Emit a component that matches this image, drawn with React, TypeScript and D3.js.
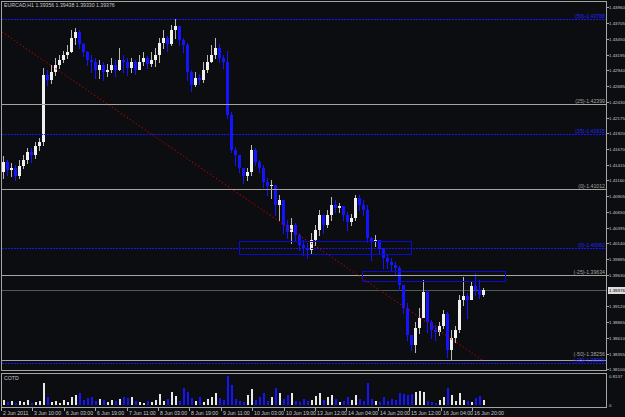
import React from 'react';
import * as d3 from 'd3';

const titleText = 'EURCAD,H1  1.39356 1.39438 1.39330 1.39376';
const firstOpen = 1.4129;
const closes = [
  1.4145, 1.4132, 1.4136, 1.4123, 1.4139, 1.4149, 1.4162, 1.4157, 1.4171, 1.4178,
  1.4286, 1.4278, 1.4291, 1.4302, 1.4310, 1.4318, 1.4323, 1.4346, 1.4356, 1.4336,
  1.4323, 1.4310, 1.4307, 1.4294, 1.4302, 1.4291, 1.4294, 1.4302, 1.4294, 1.4310,
  1.4307, 1.4297, 1.4307, 1.4294, 1.4307, 1.4314, 1.4304, 1.4310, 1.4318, 1.4339,
  1.4346, 1.4336, 1.4359, 1.4365, 1.4343, 1.4335, 1.4291, 1.4270, 1.4281, 1.4278,
  1.4294, 1.4307, 1.4318, 1.4330, 1.4314, 1.4307, 1.4221, 1.4165, 1.4157, 1.4136,
  1.4123, 1.4129, 1.4165, 1.4145, 1.4136, 1.4113, 1.4107, 1.4108, 1.4076, 1.4084,
  1.4044, 1.4032, 1.4044, 1.4027, 1.4011, 1.4006, 1.4003, 1.4019, 1.4035, 1.4060,
  1.4044, 1.4060, 1.4076, 1.4071, 1.4074, 1.4060, 1.4048, 1.4055, 1.4087, 1.4076,
  1.4068, 1.4023, 1.4016, 1.4019, 1.4006, 1.3990, 1.3984, 1.3979, 1.3974, 1.3947,
  1.3909, 1.3866, 1.3849, 1.3877, 1.3893, 1.3935, 1.3887, 1.3874, 1.3871, 1.3880,
  1.3900, 1.3841, 1.3861, 1.3874, 1.3922, 1.3929, 1.3922, 1.3945, 1.3938, 1.3930,
  1.39376,
];
const highs = [
  1.4155, 1.4149, 1.4144, 1.4141, 1.4149, 1.4157, 1.4168, 1.4168, 1.4178, 1.4184,
  1.4297, 1.4294, 1.4302, 1.4314, 1.4318, 1.4326, 1.4335, 1.4359, 1.4362, 1.4359,
  1.4339, 1.4326, 1.4318, 1.4314, 1.4310, 1.4307, 1.4304, 1.4314, 1.4310, 1.4330,
  1.4318, 1.4314, 1.4314, 1.4310, 1.4318, 1.4323, 1.4317, 1.4323, 1.4330, 1.4346,
  1.4359, 1.4349, 1.4367, 1.4377, 1.4365, 1.4346, 1.4339, 1.4294, 1.4291, 1.4288,
  1.4307, 1.4318, 1.4335, 1.4346, 1.4336, 1.4318, 1.4326, 1.4226, 1.4170, 1.4152,
  1.4136, 1.4136, 1.4173, 1.4168, 1.4149, 1.4141, 1.4120, 1.4116, 1.4097, 1.4092,
  1.4055, 1.4052, 1.4055, 1.4047, 1.4031, 1.4019, 1.4014, 1.4031, 1.4044, 1.4068,
  1.4055, 1.4068, 1.4089, 1.4084, 1.4079, 1.4073, 1.4065, 1.4061, 1.4092, 1.4092,
  1.4084, 1.4076, 1.4024, 1.4027, 1.4019, 1.4003, 1.3995, 1.3990, 1.3984, 1.3977,
  1.3947, 1.3917, 1.3866, 1.3887, 1.3909, 1.3955, 1.3938, 1.3890, 1.3882, 1.3887,
  1.3906, 1.3903, 1.3874, 1.3880, 1.3930, 1.3959, 1.3934, 1.3951, 1.3966, 1.3955,
  1.3942,
];
const lows = [
  1.4120, 1.4124, 1.4123, 1.4116, 1.4120, 1.4136, 1.4144, 1.4145, 1.4152, 1.4165,
  1.4173, 1.4270, 1.4273, 1.4286, 1.4297, 1.4307, 1.4314, 1.4323, 1.4336, 1.4330,
  1.4317, 1.4302, 1.4291, 1.4281, 1.4281, 1.4278, 1.4284, 1.4291, 1.4284, 1.4294,
  1.4291, 1.4286, 1.4291, 1.4288, 1.4297, 1.4302, 1.4297, 1.4301, 1.4301, 1.4307,
  1.4330, 1.4326, 1.4335, 1.4346, 1.4335, 1.4323, 1.4278, 1.4260, 1.4268, 1.4272,
  1.4275, 1.4291, 1.4307, 1.4314, 1.4307, 1.4297, 1.4217, 1.4162, 1.4141, 1.4129,
  1.4111, 1.4116, 1.4124, 1.4141, 1.4129, 1.4105, 1.4092, 1.4087, 1.4060, 1.4052,
  1.4031, 1.4023, 1.4014, 1.4019, 1.4003, 1.3995, 1.3990, 1.3998, 1.4011, 1.4027,
  1.4031, 1.4040, 1.4052, 1.4065, 1.4065, 1.4052, 1.4035, 1.4044, 1.4052, 1.4068,
  1.4060, 1.4016, 1.3987, 1.4010, 1.3998, 1.3974, 1.3974, 1.3971, 1.3963, 1.3938,
  1.3901, 1.3858, 1.3841, 1.3838, 1.3869, 1.3898, 1.3871, 1.3861, 1.3858, 1.3866,
  1.3877, 1.3830, 1.3825, 1.3854, 1.3871, 1.3914, 1.3893, 1.3927, 1.3930, 1.3925,
  1.3928,
];
const cotd = [
  0.14, 0.08, 0.11, 0.05, 0.11, 0.08, 0.14, 0.05, 0.08, 0.11,
  0.62, 0.22, 0.08, 0.11, 0.05, 0.14, 0.08, 0.22, 0.27, 0.32,
  0.14, 0.19, 0.22, 0.11, 0.16, 0.14, 0.08, 0.14, 0.11, 0.16,
  0.22, 0.19, 0.22, 0.11, 0.08, 0.05, 0.11, 0.08, 0.14, 0.30,
  0.11, 0.16, 0.35, 0.24, 0.11, 0.46, 0.35, 0.19, 0.11, 0.22,
  0.08, 0.16, 0.22, 0.32, 0.19, 0.14, 0.8137, 0.54, 0.16, 0.11,
  0.08, 0.27, 0.44, 0.14, 0.22, 0.33, 0.11, 0.22, 0.46, 0.32,
  0.16, 0.27, 0.32, 0.11, 0.08, 0.16, 0.11, 0.14, 0.24, 0.32,
  0.14, 0.22, 0.27, 0.16, 0.08, 0.11, 0.22, 0.14, 0.27, 0.16,
  0.11, 0.62, 0.16, 0.11, 0.08, 0.22, 0.11, 0.16, 0.14, 0.32,
  0.30, 0.27, 0.30, 0.35, 0.38, 0.35, 0.11, 0.08, 0.05, 0.14,
  0.22, 0.48, 0.27, 0.11, 0.32, 0.14, 0.11, 0.08, 0.19, 0.24,
  0.14,
];
const priceTicks = [
  '1.43960', '1.43705', '1.43450', '1.43195', '1.42940', '1.42685', '1.42430', '1.42175',
  '1.41920', '1.41670', '1.41415', '1.41160', '1.40905', '1.40650', '1.40395', '1.40140',
  '1.39885', '1.39630', '1.39120', '1.38865', '1.38610', '1.38355', '1.38100',
];
const timeLabels = [
  '2 Jun 2011', '3 Jun 10:00', '6 Jun 03:00', '6 Jun 19:00', '7 Jun 11:00', '8 Jun 03:00',
  '8 Jun 19:00', '9 Jun 11:00', '10 Jun 03:00', '10 Jun 19:00', '13 Jun 12:00', '14 Jun 04:00',
  '14 Jun 20:00', '15 Jun 12:00', '16 Jun 04:00', '16 Jun 20:00',
];
const grayLevels = [1.42399, 1.41012, 1.39634, 1.38256];
const grayTags = ['(25)', '(0)', '(-25)', '(-50)'];
const blueLevels = [1.43768, 1.41915, 1.40062, 1.38209];
const blueTags = ['(50)', '(25)', '(0)', '(-25)'];
const boxFrom = [59, 89.75];
const boxTo = [102, 125.5];
const boxTop = [1.40177, 1.39687];
const boxBottom = [1.39966, 1.39525];
const trendIdx = [-0.25, 119.75];
const trendPrice = [1.4356, 1.3825];
const lastPrice = 1.39376;
const cotdMax = 0.8137;

export default function App() {
  const W = 625, H = 417;
  const L = 2, R = 606, mainTop = 1, mainBottom = 371, subTop = 374, subBottom = 408;
  const y = d3.scaleLinear().domain([1.381, 1.4396]).range([369.3, 7.3]);
  const x = d3.scaleLinear().domain([0, 120]).range([3, 483]);
  const xh = d3.scaleLinear().domain([0, 240]).range([1, 472]);
  const yv = d3.scaleLinear().domain([0, cotdMax]).range([405, 375.5]);
  const font = "'Liberation Sans', Arial, sans-serif";
  const fs = 5.2;
  const afs = 4.4;
  const gray = '#a4a4a0';
  const txt = '#c8c8c8';
  const blue = '#1414ff';

  const candles = closes.map((c, i) => ({
    i,
    o: i === 0 ? firstOpen : closes[i - 1],
    h: highs[i],
    l: lows[i],
    c,
    v: cotd[i],
  }));

  const trendLine = d3.line<number>()
    .x((_, k) => x(trendIdx[k]))
    .y((p) => y(p));

  return (
    <svg width={W} height={H} style={{ position: 'absolute', left: 0, top: 0, background: '#0c0d10' }}
      fontFamily={font}>
      <rect x={0} y={0} width={W} height={H} fill="#0c0d10" />
      <defs>
        <clipPath id="mainClip"><rect x={L} y={mainTop} width={R - L} height={mainBottom - mainTop} /></clipPath>
        <clipPath id="subClip"><rect x={L} y={subTop} width={R - L} height={subBottom - subTop} /></clipPath>
      </defs>

      <text x={4} y={7} fontSize={fs} fill={txt}>{titleText}</text>

      <g clipPath="url(#mainClip)" shapeRendering="crispEdges">
        <line x1={L} x2={R} y1={Math.round(y(lastPrice)) + 0.5} y2={Math.round(y(lastPrice)) + 0.5} stroke="#4f5c56" />
        {candles.map((d) => {
          const cx = Math.round(x(d.i));
          const up = d.c >= d.o;
          const col = up ? '#f0f0f0' : blue;
          const top = Math.round(y(Math.max(d.o, d.c)));
          const bot = Math.round(y(Math.min(d.o, d.c)));
          return (
            <g key={d.i}>
              <line x1={cx + 0.5} x2={cx + 0.5} y1={Math.round(y(d.h))} y2={Math.round(y(d.l)) + 1}
                stroke={up ? '#b8b8b8' : blue} />
              <rect x={cx - 1} y={top} width={3} height={Math.max(1, bot - top)} fill={col} />
            </g>
          );
        })}
        {grayLevels.map((p, k) => (
          <line key={'g' + k} x1={L} x2={R} y1={Math.round(y(p)) + 0.5} y2={Math.round(y(p)) + 0.5} stroke={gray} />
        ))}
        {blueLevels.map((p, k) => (
          <line key={'b' + k} x1={L} x2={R} y1={Math.round(y(p)) + 0.5} y2={Math.round(y(p)) + 0.5}
            stroke={blue} strokeDasharray="2 1" />
        ))}
        {boxFrom.map((f, k) => (
          <rect key={'r' + k} x={Math.round(x(f)) + 0.5} y={Math.round(y(boxTop[k])) + 0.5}
            width={Math.round(x(boxTo[k]) - x(f))} height={Math.round(y(boxBottom[k]) - y(boxTop[k]))}
            fill="none" stroke="#0a0ad0" />
        ))}
      </g>
      <g clipPath="url(#mainClip)">
        <path d={trendLine(trendPrice) || ''} fill="none" stroke="#b00000" strokeWidth={1.1} strokeDasharray="1.2 2.4" />
        {grayLevels.map((p, k) => (
          <text key={'gt' + k} x={R - 1} y={y(p) - (k === 3 ? 3.5 : 1)} fontSize={fs} fill={gray} textAnchor="end">
            {grayTags[k] + '-' + p.toFixed(5)}
          </text>
        ))}
        {blueLevels.map((p, k) => (
          <text key={'bt' + k} x={R - 1} y={y(p) - 1} fontSize={fs} fill="#2424ff" textAnchor="end">
            {blueTags[k] + '-' + p.toFixed(5)}
          </text>
        ))}
      </g>

      <g clipPath="url(#subClip)" shapeRendering="crispEdges">
        {candles.map((d) => {
          const cx = Math.round(x(d.i));
          const up = d.c >= d.o;
          const top = Math.round(yv(d.v));
          return (
            <rect key={'v' + d.i} x={cx - 0.5} y={top} width={2} height={Math.max(1, 405 - top)}
              fill={up ? '#e8e8e8' : blue} />
          );
        })}
      </g>
      <text x={4} y={379.5} fontSize={fs} fill={txt}>COTD</text>

      <g shapeRendering="crispEdges" fill="none" stroke={gray}>
        <rect x={L - 0.5} y={mainTop + 0.5} width={R - L + 1} height={mainBottom - mainTop - 1} />
        <rect x={L - 0.5} y={subTop - 0.5} width={R - L + 1} height={subBottom - subTop} />
      </g>

      <g shapeRendering="crispEdges">
        {priceTicks.map((t) => {
          const py = Math.round(y(+t)) + 0.5;
          return (
            <g key={t}>
              <line x1={R} x2={R + 3} y1={py} y2={py} stroke={gray} />
              <text x={R + 3} y={py + 1.6} fontSize={afs} fill={txt}>{t}</text>
            </g>
          );
        })}
        <rect x={R + 2} y={Math.round(y(lastPrice)) - 3} width={W - R} height={7} fill="#dcdcdc" />
        <text x={R + 3} y={y(lastPrice) + 2} fontSize={afs} fill="#000">{lastPrice.toFixed(5)}</text>
        <text x={R + 3} y={377.5} fontSize={afs} fill={txt}>{cotdMax.toFixed(4)}</text>
        <text x={R + 3} y={406.5} fontSize={afs} fill={txt}>0</text>
      </g>

      <g shapeRendering="crispEdges">
        {timeLabels.map((t, k) => {
          const tx = Math.round(xh(k * 16)) + 0.5;
          return (
            <g key={t}>
              <line x1={tx} x2={tx} y1={subBottom} y2={subBottom + 3} stroke={gray} />
              <text x={tx + 1.5} y={415} fontSize={fs} fill={txt}>{t}</text>
            </g>
          );
        })}
      </g>
    </svg>
  );
}
